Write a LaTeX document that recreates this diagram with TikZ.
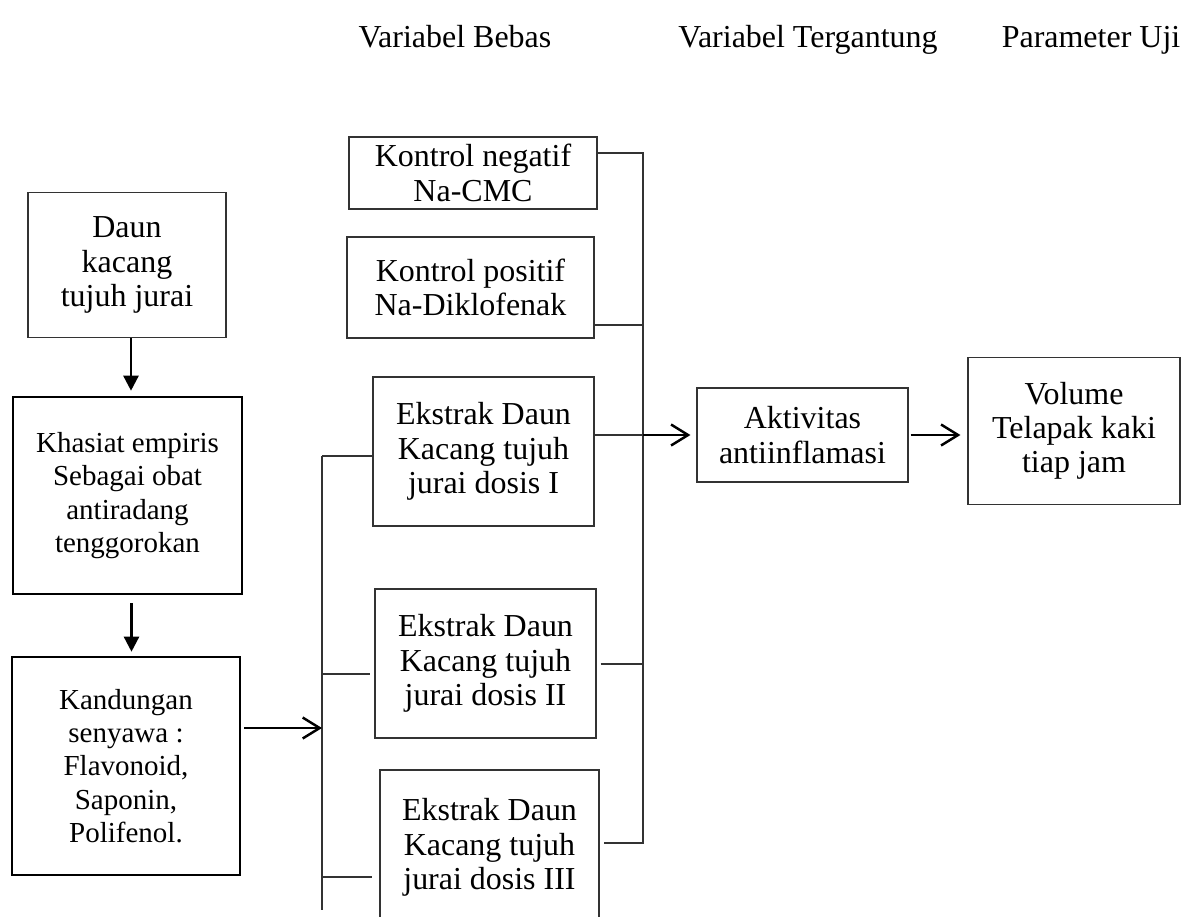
\documentclass[tikz,border=0pt]{standalone}
\usepackage{fontspec}
\setmainfont{Liberation Serif}
\usetikzlibrary{arrows.meta}
\usetikzlibrary{calc}
\tikzset{
    % Plain box with a thin grey outline
    box/.style={draw=black!80, line width=0.7pt, align=center, inner sep=0pt,
        font=\fontsize{18.2}{19.5}\selectfont},
%
    % Heavier box used in the left column
    heavy box/.style={box, draw=black, line width=1.5pt,
        font=\fontsize{16.5}{19}\selectfont},
%
    % Thin connector line between boxes
    bus/.style={draw=black!80, line width=0.75pt},
    % Filled arrow going down
    down arrow/.style={-{Triangle[length=0.3cm,width=0.3cm]}, line width=1.4pt},
    % Open arrow going right
    open arrow/.style={-{Straight Barb[length=0.34cm,width=0.42cm]},
        line width=1.4pt}}

\begin{document}
\begin{tikzpicture}[x=0.02cm, y=-0.02cm,
    header/.style={anchor=base, font=\fontsize{18.2}{19.5}\selectfont}]
\useasboundingbox (0,0) rectangle (1182,916);

% headings
\node [header] (bebas) at (455,47) {Variabel Bebas};
\node [header] (tergantung) at (808,47) {Variabel Tergantung};
\node [header] (uji) at (1091,47) {Parameter Uji};

% left column
\node [box, minimum width=3.96cm, minimum height=2.9cm]
    (daun) at (127,265) {Daun\\kacang\\tujuh jurai};
\node [heavy box, minimum width=4.58cm, minimum height=3.94cm]
    (khasiat) at (127.5,495.5)
    {Khasiat empiris\\Sebagai obat\\antiradang\\tenggorokan};
\node [heavy box, minimum width=4.56cm, minimum height=4.36cm]
    (kandungan) at (126,766)
    {Kandungan\\senyawa :\\Flavonoid,\\Saponin,\\Polifenol.};

% middle column
\node [box, minimum width=4.96cm, minimum height=1.44cm]
    (negatif) at (473,173) {Kontrol negatif\\Na-CMC};
\node [box, minimum width=4.94cm, minimum height=2.02cm]
    (positif) at (470.5,287.5) {Kontrol positif\\Na-Diklofenak};
\node [box, minimum width=4.42cm, minimum height=2.98cm]
    (dosis1) at (483.5,451.5) {Ekstrak Daun\\Kacang tujuh\\jurai dosis I};
\node [box, minimum width=4.42cm, minimum height=2.98cm]
    (dosis2) at (485.5,663.5) {Ekstrak Daun\\Kacang tujuh\\jurai dosis II};
\node [box, minimum width=4.38cm, minimum height=3.1cm]
    (dosis3) at (489.5,847.5) {Ekstrak Daun\\Kacang tujuh\\jurai dosis III};

% right side
\node [box, minimum width=4.22cm, minimum height=1.88cm]
    (aktivitas) at (802.5,435) {Aktivitas\\antiinflamasi};
\node [box, minimum width=4.24cm, minimum height=2.94cm]
    (volume) at (1074,431) {Volume\\Telapak kaki\\tiap jam};

% bus lines
\coordinate (left top) at (322,456);
\coordinate (left in) at (322,728);
\coordinate (left two) at (322,674);
\coordinate (left three) at (322,877);
\coordinate (left bottom) at (322,910);
\coordinate (right one) at (643,153);
\coordinate (right two) at (643,325);
\coordinate (right three) at (643,435);
\coordinate (right four) at (643,664);
\coordinate (right five) at (643,843);

\draw [bus] (left top) -- (left bottom);
\draw [bus] (left top) -- (left top -| dosis1.west);
\draw [bus] (left two) -- ([xshift=-0.08cm]left two -| dosis2.west);
\draw [bus] (left three) -- ([xshift=-0.14cm]left three -| dosis3.west);

\draw [bus] (negatif.east |- right one) -- (right one) -- (right five)
    -- ([xshift=0.08cm]dosis3.east |- right five);
\draw [bus] (positif.east |- right two) -- (right two);
\draw [bus] (dosis1.east |- right three) -- (right three);
\draw [bus] ([xshift=0.08cm]dosis2.east |- right four) -- (right four);

% arrows
\draw [down arrow, shorten >=0.1cm]
    ([xshift=0.08cm]daun.south) -- ([xshift=0.08cm]daun.south |- khasiat.north);
\draw [down arrow, shorten <=0.16cm, shorten >=0.08cm]
    ([xshift=0.08cm]khasiat.south) -- ([xshift=0.08cm]khasiat.south |- kandungan.north);
\draw [open arrow] ([xshift=0.06cm]kandungan.east |- left in) -- (left in);
\draw [open arrow, shorten >=0.12cm] (right three) -- (aktivitas.west |- right three);
\draw [open arrow, shorten >=0.14cm]
    ([xshift=0.04cm]aktivitas.east) -- (volume.west |- aktivitas.east);

\end{tikzpicture}
\end{document}
